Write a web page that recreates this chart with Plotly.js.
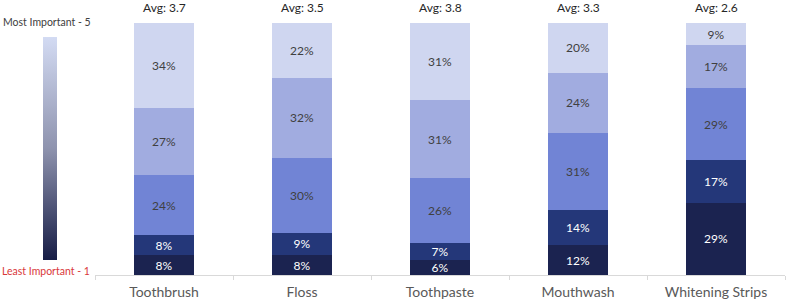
<!DOCTYPE html>
<html>
<head>
<meta charset="utf-8">
<script src="https://cdn.plot.ly/plotly-3.0.1.min.js"></script>
<style>html,body{margin:0;padding:0;background:#fff;}#chart{width:791px;height:305px;}</style>
</head>
<body>
<div id="chart"></div>
<script>
const categories = ["Toothbrush", "Floss", "Toothpaste", "Mouthwash", "Whitening Strips"];
const averages = ["3.7", "3.5", "3.8", "3.3", "2.6"];
const level1 = [8, 8, 6, 12, 29];
const level2 = [8, 9, 7, 14, 17];
const level3 = [24, 30, 26, 31, 29];
const level4 = [27, 32, 31, 24, 17];
const level5 = [34, 22, 31, 20, 9];
const levelNames = ["1", "2", "3", "4", "5"];
const levelColors = ["#1B2350", "#243779", "#7184D5", "#A1ACE0", "#CFD6F0"];
const textColors = ["#FFFFFF", "#FFFFFF", "#404040", "#404040", "#404040"];

const series = [level1, level2, level3, level4, level5];
const FONT = "Lato, 'DejaVu Sans', sans-serif";

const traces = series.map((vals, i) => ({
  type: "bar",
  name: levelNames[i],
  x: categories,
  y: vals,
  text: vals.map(v => v + "%"),
  textposition: "inside",
  insidetextanchor: "middle",
  textangle: 0,
  textfont: {family: FONT, size: 12, color: textColors[i]},
  constraintext: "none",
  marker: {color: levelColors[i], line: {width: 0}},
  hoverinfo: "skip",
  showlegend: false
}));

// gradient legend
traces.push({
  type: "scatter",
  mode: "markers",
  x: [categories[0]],
  y: [0],
  marker: {
    size: 0.1, opacity: 0,
    color: [1], cmin: 1, cmax: 5,
    colorscale: [[0, "#161C45"], [0.5, "#8E93AE"], [1, "#D3DBF3"]],
    showscale: true,
    colorbar: {
      x: -0.0754, xanchor: "left", xref: "paper",
      y: 0.502, yanchor: "middle",
      len: 223, lenmode: "pixels",
      thickness: 14, thicknessmode: "pixels",
      outlinewidth: 0,
      showticklabels: false, ticks: "",
      xpad: 0, ypad: 0
    }
  },
  hoverinfo: "skip",
  showlegend: false
});

const plotW = 791 - 95 - 6, plotH = 305 - 23 - 30;

const annotations = categories.map((c, i) => ({
  x: c, xref: "x",
  y: 1.06, yref: "paper",
  yanchor: "middle",
  text: "Avg: " + averages[i],
  showarrow: false,
  font: {family: FONT, size: 12, color: "#262626"}
}));
annotations.push({
  x: (47 - 95) / plotW, xref: "paper", xanchor: "center",
  y: (275 - 22) / plotH, yref: "paper", yanchor: "middle",
  text: "Most Important - 5", showarrow: false,
  font: {family: FONT, size: 10.5, color: "#404040"}
});
annotations.push({
  x: (46 - 95) / plotW, xref: "paper", xanchor: "center",
  y: (275 - 271) / plotH, yref: "paper", yanchor: "middle",
  text: "Least Important - 1", showarrow: false,
  font: {family: FONT, size: 10.5, color: "#D9383A"}
});

const layout = {
  width: 791, height: 305,
  margin: {l: 95, r: 6, t: 23, b: 30},
  paper_bgcolor: "#FFFFFF", plot_bgcolor: "#FFFFFF",
  barmode: "stack",
  bargap: 0.565,
  showlegend: false,
  xaxis: {
    type: "category",
    showline: true, linecolor: "#D9D9D9", linewidth: 1,
    ticks: "outside", tickson: "boundaries", ticklen: 4, tickcolor: "#D9D9D9",
    ticklabelstandoff: 4,
    showgrid: false, zeroline: false,
    tickfont: {family: FONT, size: 14, color: "#595959"}
  },
  yaxis: {
    range: [0, 101], visible: false, showgrid: false, zeroline: false
  },
  annotations: annotations
};

Plotly.newPlot("chart", traces, layout, {displayModeBar: false, staticPlot: true});
</script>
</body>
</html>
